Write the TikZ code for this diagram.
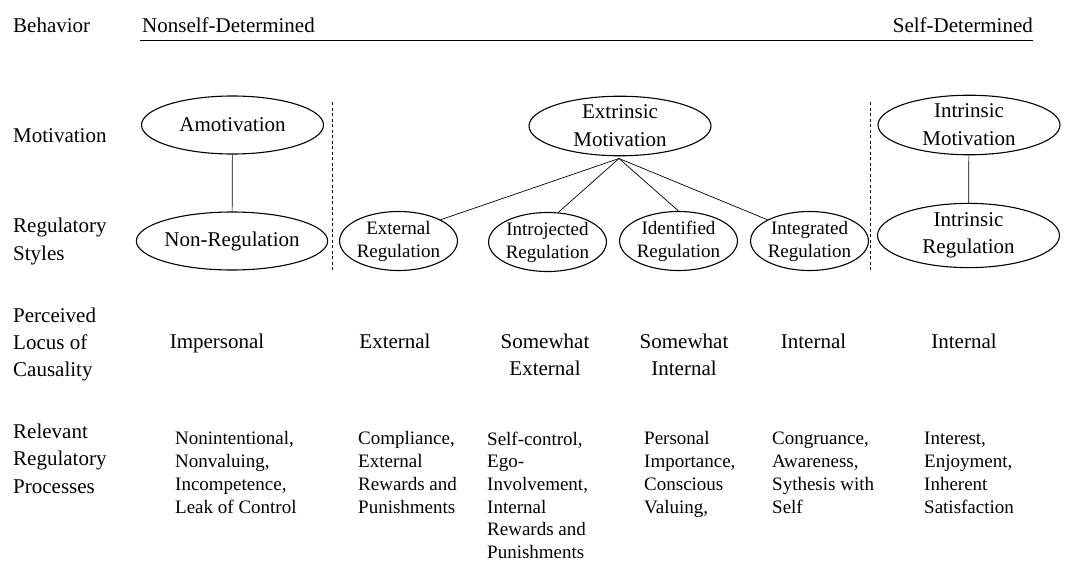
\documentclass[tikz,border=0pt]{standalone}
\usepackage{fontspec}
\setmainfont{Liberation Serif}
\usetikzlibrary{shapes.geometric}
\tikzset{
  big/.style={font=\fontsize{21}{27}\selectfont},
  lab/.style={big, anchor=base west, align=left, inner sep=0pt},
  bigell/.style={draw, ellipse, line width=1.1pt, inner sep=0pt, big, align=center,
     minimum width=182pt, minimum height=58pt},
  smallell/.style={draw, ellipse, line width=1.1pt, inner sep=0pt, align=center,
     font=\fontsize{19}{23}\selectfont, minimum width=114pt, minimum height=59pt},
  locus/.style={big, align=center, anchor=base, inner sep=0pt},
  proc/.style={font=\fontsize{19}{22.7}\selectfont, align=left, anchor=base west, inner sep=0pt},
  conn/.style={line width=0.7pt},
  divider/.style={dashed, line width=0.8pt, dash pattern=on 3pt off 2.5pt}
}
\begin{document}
\begin{tikzpicture}[x=1pt,y=-1pt]
\useasboundingbox (0,0) rectangle (1076,562);
% header
\node[lab] (behav) at (13,32) {Behavior};
\node[lab] (nsd) at (142,32) {Nonself-Determined};
\node[big, anchor=base east, inner sep=0pt] (sd) at (1033,32) {Self-Determined};
\coordinate (hl) at (140,40.5);
\coordinate (hr) at (1033,40.5);
\draw[line width=1pt] (hl) -- (hr);
% row labels (base anchor = baseline of last line)
\node[lab] (lmot) at (13,142) {Motivation};
\node[lab, font=\fontsize{21}{28}\selectfont] (lreg) at (13,260) {Regulatory\\Styles};
\node[lab] (lloc) at (13,376) {Perceived\\Locus of\\Causality};
\node[lab, font=\fontsize{21}{27.5}\selectfont] (lproc) at (13,493) {Relevant\\Regulatory\\Processes};
% dividers
\coordinate (d1t) at (332,102);
\coordinate (d1b) at (332,272);
\coordinate (d2t) at (870,102);
\coordinate (d2b) at (870,272);
\draw[divider] (d1t) -- (d1b);
\draw[divider] (d2t) -- (d2b);
% motivation ellipses
\node[bigell] (amot) at (232.5,125) {Amotivation};
\node[bigell, minimum height=59pt] (extr) at (620,126) {Extrinsic\\[1pt]Motivation};
\node[bigell, minimum height=59pt] (intr) at (969,125) {Intrinsic\\[1pt]Motivation};
% regulation ellipses
\node[bigell] (nonreg) at (232,241) {Non-Regulation};
\node[smallell] (extreg) at (398.5,241) {External\\Regulation};
\node[smallell, minimum width=117pt] (introreg) at (547.5,242) {Introjected\\Regulation};
\node[smallell] (identreg) at (678.5,241) {Identified\\Regulation};
\node[smallell] (integreg) at (809.5,241) {Integrated\\Regulation};
\node[bigell, minimum height=57pt] (intrreg) at (968.5,235.5) {Intrinsic\\Regulation};
% connectors
\draw[conn] (amot) -- (nonreg);
\draw[conn] (intr) -- (intrreg);
\coordinate (apex) at (619,158.5);
\draw[conn] (apex) -- (extreg.north east);
\draw[conn] (apex) -- (introreg.70);
\draw[conn] (apex) -- (identreg.north);
\draw[conn] (apex) -- (integreg.north west);
% locus of causality
\node[locus] (l1) at (217,348) {Impersonal};
\node[locus] (l2) at (395,348) {External};
\node[locus] (l3) at (545,375) {Somewhat\\External};
\node[locus] (l4) at (684,375) {Somewhat\\Internal};
\node[locus] (l5) at (813.5,348) {Internal};
\node[locus] (l6) at (964,348) {Internal};
% processes
\node[proc] (p1) at (175,513) {Nonintentional,\\Nonvaluing,\\Incompetence,\\Leak of Control};
\node[proc] (p2) at (358,513) {Compliance,\\External\\Rewards and\\Punishments};
\node[proc] (p3) at (487,558.5) {Self-control,\\Ego-\\Involvement,\\Internal\\Rewards and\\Punishments};
\node[proc] (p4) at (644,513) {Personal\\Importance,\\Conscious\\Valuing,};
\node[proc] (p5) at (772,513) {Congruance,\\Awareness,\\Sythesis with\\Self};
\node[proc] (p6) at (924,513) {Interest,\\Enjoyment,\\Inherent\\Satisfaction};
\end{tikzpicture}
\end{document}
